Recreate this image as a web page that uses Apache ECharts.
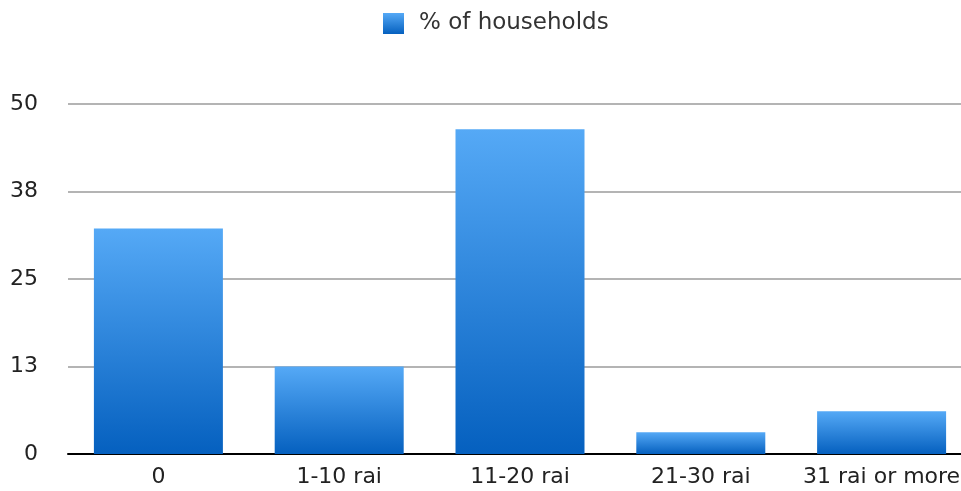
<!DOCTYPE html>
<html>
<head>
<meta charset="utf-8">
<script src="https://cdn.jsdelivr.net/npm/echarts@6/dist/echarts.min.js"></script>
<style>
html,body{margin:0;padding:0;background:#fff;}
#chart{width:961px;height:491px;}
</style>
</head>
<body>
<div id="chart"></div>
<script>
var categories = ["0", "1-10 rai", "11-20 rai", "21-30 rai", "31 rai or more"];
var households = [32.2, 12.5, 46.4, 3.1, 6.1];
var seriesName = "% of households";
var yTickLabels = ["0", "13", "25", "38", "50"];

var barGradient = new echarts.graphic.LinearGradient(0, 0, 0, 1, [
  {offset: 0, color: "#55a9f6"},
  {offset: 1, color: "#0560bf"}
]);

var chart = echarts.init(document.getElementById("chart"));
chart.setOption({
  animation: false,
  backgroundColor: "#ffffff",
  textStyle: {fontFamily: "DejaVu Sans"},
  legend: {
    top: 12,
    left: 383,
    padding: 0,
    itemWidth: 21,
    itemHeight: 21,
    itemGap: 10,
    icon: "rect",
    textStyle: {fontSize: 23, color: "#333333", fontFamily: "DejaVu Sans", padding: [0, 0, 0, 10]},
    data: [{name: seriesName, itemStyle: {color: barGradient}}]
  },
  grid: {left: 68, width: 904, top: 104, bottom: 37, containLabel: false, outerBoundsMode: "none"},
  xAxis: {
    type: "category",
    data: categories,
    axisLine: {show: true, lineStyle: {color: "#000000", width: 2}},
    axisTick: {show: false},
    axisLabel: {fontSize: 22, color: "#222222", margin: 12, fontFamily: "DejaVu Sans", interval: 0}
  },
  yAxis: {
    type: "value",
    min: 0,
    max: 50,
    interval: 12.5,
    axisLine: {show: false},
    axisTick: {show: false},
    axisLabel: {
      fontSize: 22, color: "#222222", margin: 30, fontFamily: "DejaVu Sans",
      formatter: function (v) { return yTickLabels[Math.round(v / 12.5)]; }
    },
    splitLine: {show: true, lineStyle: {color: "#b4b4b4", width: 2}}
  },
  series: [{
    name: seriesName,
    type: "bar",
    data: households,
    barWidth: 129,
    itemStyle: {color: barGradient}
  }]
});
</script>
</body>
</html>
